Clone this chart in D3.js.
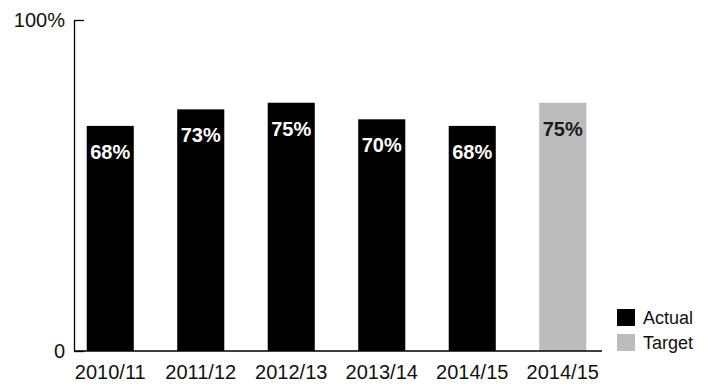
<!DOCTYPE html>
<html>
<head>
<meta charset="utf-8">
<script src="https://cdn.jsdelivr.net/npm/d3@7"></script>
<style>
  body { margin: 0; background: #fff; }
  text { font-family: "Liberation Sans", Arial, sans-serif; }
</style>
</head>
<body>
<script>
const years = ['2010/11', '2011/12', '2012/13', '2013/14', '2014/15', '2014/15 '];
const values = [68, 73, 75, 70, 68, 75];
const kinds = ['Actual', 'Actual', 'Actual', 'Actual', 'Actual', 'Target'];
const legendItems = ['Actual', 'Target'];

const colors = { Actual: '#000000', Target: '#bcbcbe' };
const labelColors = { Actual: '#ffffff', Target: '#1a1a1a' };

const width = 707, height = 386;
const axisX = 74, axisEnd = 602;

const svg = d3.select('body').append('svg')
  .attr('width', width)
  .attr('height', height);

const x = d3.scaleBand()
  .domain(d3.range(years.length))
  .range([65, 608])
  .paddingInner(0.48)
  .paddingOuter(0.24);

const y = d3.scaleLinear()
  .domain([0, 100])
  .range([351, 20]);

// y axis
const yAxis = svg.append('g')
  .attr('transform', `translate(${axisX},0)`)
  .call(d3.axisLeft(y)
    .tickValues([0, 100])
    .tickSizeInner(-10)
    .tickSizeOuter(0)
    .tickPadding(9)
    .tickFormat(d => d === 0 ? '0' : '100%'));
yAxis.select('.domain').attr('stroke', '#000').attr('stroke-width', 1.3);
yAxis.selectAll('.tick line').attr('stroke', '#000').attr('stroke-width', 1.3);
yAxis.selectAll('.tick text')
  .style('font-size', '20px')
  .attr('fill', '#111');

// bars
svg.selectAll('rect.bar')
  .data(values)
  .enter()
  .append('rect')
  .attr('class', 'bar')
  .attr('x', (d, i) => x(i))
  .attr('y', d => y(d))
  .attr('width', x.bandwidth())
  .attr('height', d => y(0) - y(d))
  .attr('fill', (d, i) => colors[kinds[i]]);

// value labels
svg.selectAll('text.val')
  .data(values)
  .enter()
  .append('text')
  .attr('class', 'val')
  .attr('x', (d, i) => x(i) + x.bandwidth() / 2)
  .attr('y', d => y(d) + 33)
  .attr('text-anchor', 'middle')
  .style('font-size', '20px')
  .style('font-weight', 'bold')
  .attr('fill', (d, i) => labelColors[kinds[i]])
  .text(d => d + '%');

// x axis line
svg.append('line')
  .attr('x1', axisX)
  .attr('x2', axisEnd)
  .attr('y1', y(0))
  .attr('y2', y(0))
  .attr('stroke', '#000')
  .attr('stroke-width', 1.3);

// x labels
svg.selectAll('text.year')
  .data(years)
  .enter()
  .append('text')
  .attr('class', 'year')
  .attr('x', (d, i) => x(i) + x.bandwidth() / 2)
  .attr('y', 379)
  .attr('text-anchor', 'middle')
  .style('font-size', '20px')
  .attr('fill', '#111')
  .text(d => d.trim());

// legend
const legend = svg.selectAll('g.legend')
  .data(legendItems)
  .enter()
  .append('g')
  .attr('class', 'legend')
  .attr('transform', (d, i) => `translate(617,${309 + i * 25})`);

legend.append('rect')
  .attr('width', 18)
  .attr('height', 17)
  .attr('fill', d => colors[d]);

legend.append('text')
  .attr('x', 26)
  .attr('y', 15)
  .style('font-size', '18px')
  .attr('fill', '#111')
  .text(d => d);
</script>
</body>
</html>
